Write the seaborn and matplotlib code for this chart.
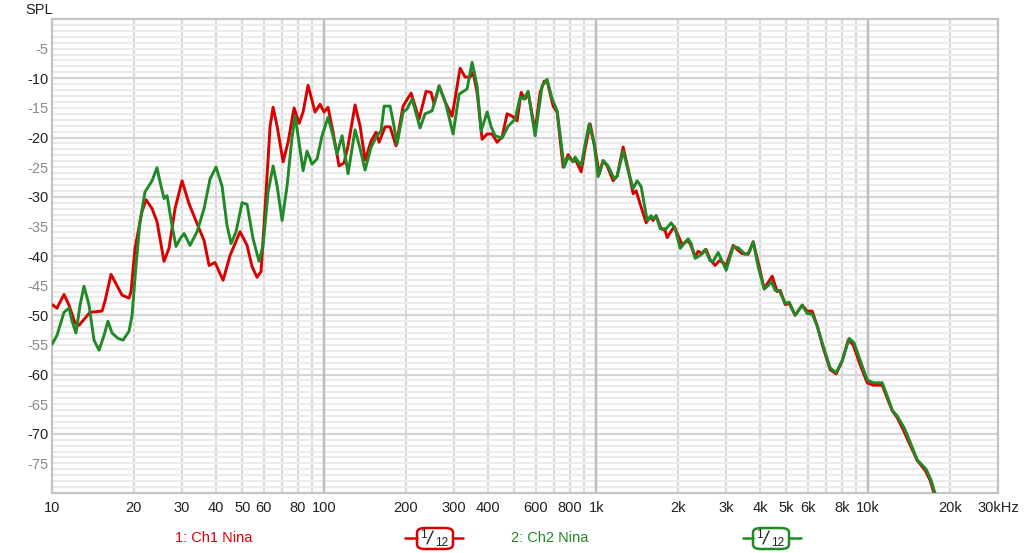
import numpy as np
import pandas as pd
import matplotlib
matplotlib.use("Agg")
import matplotlib.pyplot as plt
import seaborn as sns
from matplotlib.patches import FancyBboxPatch
from matplotlib.lines import Line2D
from matplotlib.ticker import FixedLocator, NullFormatter

# ---------------- data ----------------
ch1_freq = [10, 10.43, 11.07, 11.55, 12.15, 12.57, 13.22, 13.79, 15.27, 15.66, 16.48, 17.34,
            18.09, 19.19, 19.52, 20.19, 21.42, 22.16, 23.32, 24.32, 24.95, 25.81, 26.92, 28.33,
            30.06, 31.90, 33.56, 36.22, 37.79, 39.74, 42.54, 45.13, 49.12, 52.12, 54.37, 56.72,
            58.67, 60.70, 63.33, 64.97, 67.21, 70.71, 73.73, 77.59, 80.95, 83.73, 87.34, 92.66,
            96.67, 100.0, 103.4, 107.9, 113.5, 118.4, 122.5, 130.0, 135.7, 141.5, 148.9, 155.3,
            159.3, 167.6, 174.8, 183.9, 195.2, 208.9, 223.5, 237.1, 247.4, 253.8, 264.8, 278.6,
            295.5, 305.7, 316.2, 329.9, 344.2, 353.0, 365.2, 381.0, 397.5, 414.6, 432.5, 451.2,
            470.7, 491.1, 512.3, 530.0, 548.3, 562.3, 596.7, 622.5, 644.0, 660.6, 695.0, 718.9,
            756.3, 789.0, 823.0, 837.1, 880.8, 911.1, 950.6, 991.6, 1026, 1061, 1098, 1155,
            1195, 1257, 1311, 1368, 1403, 1451, 1527, 1579, 1620, 1662, 1734, 1794, 1824, 1936,
            1986, 2072, 2160, 2216, 2312, 2371, 2453, 2537, 2624, 2738, 2833, 2930, 3006, 3190,
            3300, 3442, 3621, 3778, 3975, 4146, 4437, 4629, 4749, 4953, 5124, 5391, 5721, 5967,
            6225, 6494, 6833, 7250, 7627, 8024, 8444, 8808, 9346, 9916, 10432, 11260, 11747,
            12255, 12785, 13450, 14033, 15139, 16204, 16904, 17338, 18090]
ch1_spl = [-48.2, -48.8, -46.5, -48.3, -51.3, -51.7, -50.5, -49.5, -49.3, -47.6, -43.1, -45.0,
           -46.6, -47.1, -46.0, -38.7, -32.5, -30.5, -32.0, -34.2, -37.1, -40.9, -38.7, -32.0,
           -27.3, -31.2, -33.7, -37.4, -41.6, -41.1, -44.1, -39.9, -35.9, -38.2, -41.8, -43.6,
           -42.6, -32.0, -18.1, -14.9, -18.1, -24.1, -20.8, -15.0, -17.6, -15.7, -11.2, -15.7,
           -14.4, -15.7, -14.9, -19.1, -24.8, -24.3, -21.4, -14.5, -18.1, -23.8, -20.6, -19.1,
           -20.8, -18.2, -18.2, -21.4, -14.7, -12.5, -16.9, -12.2, -12.4, -14.4, -11.3, -14.0,
           -16.4, -12.4, -8.3, -9.8, -9.8, -9.0, -12.4, -20.3, -19.4, -19.4, -20.8, -19.9,
           -16.0, -16.4, -17.2, -12.4, -13.5, -12.4, -18.9, -12.4, -10.5, -10.5, -14.7, -15.7,
           -25.0, -22.9, -24.1, -23.6, -25.8, -21.9, -17.7, -21.9, -26.2, -23.9, -24.8, -27.3,
           -26.5, -21.6, -25.3, -29.5, -29.0, -31.2, -34.4, -33.4, -34.0, -33.2, -35.4, -35.7, -36.9, -35.0,
           -36.2, -38.1, -37.4, -37.9, -40.1, -39.2, -39.6, -38.9, -40.6, -41.6, -40.8, -41.1, -41.6, -38.2,
           -38.9, -39.6, -39.7, -37.6, -41.8, -45.5, -43.4, -46.0, -45.8, -48.2, -48.0, -50.0, -48.3, -49.3,
           -49.3, -51.8, -55.5, -59.2, -59.9, -57.7, -54.2, -55.0, -58.4, -61.4, -61.8, -61.8, -64.0,
           -66.1, -67.3, -69.3, -71.2, -74.5, -76.2, -77.9, -79.6, -82.0]

ch2_freq = [10, 10.43, 11.07, 11.55, 11.85, 12.25, 12.68, 13.11, 13.68, 14.27, 14.89, 15.53,
            16.06, 16.62, 17.48, 18.24, 19.19, 19.69, 20.36, 21.06, 21.97, 23.32, 24.32, 24.95,
            25.81, 26.48, 27.62, 28.57, 29.56, 30.57, 32.17, 34.13, 36.22, 38.10, 40.08, 42.17,
            44.00, 45.52, 47.49, 49.95, 52.12, 54.83, 57.68, 59.67, 62.26, 64.97, 67.21, 70.12,
            73.11, 76.28, 78.25, 80.26, 83.73, 86.60, 90.33, 94.25, 98.31, 103.4, 107.9, 111.6,
            116.5, 122.5, 130.0, 135.7, 141.5, 148.9, 156.6, 162.0, 166.2, 174.8, 179.3, 185.5,
            195.2, 201.9, 210.6, 225.4, 235.1, 249.5, 264.8, 278.6, 298.1, 313.6, 335.5, 350.1,
            365.2, 377.8, 397.5, 411.2, 425.3, 451.2, 474.7, 503.7, 525.5, 543.7, 562.3, 596.7,
            633.2, 660.6, 689.2, 718.9, 762.7, 789.0, 823.0, 837.1, 880.8, 911.1, 942.5, 983.2,
            1017, 1061, 1107, 1165, 1195, 1257, 1311, 1368, 1415, 1464, 1540, 1593, 1620, 1662,
            1719, 1809, 1887, 1952, 2037, 2179, 2235, 2312, 2412, 2516, 2624, 2692, 2809, 3006,
            3190, 3328, 3530, 3652, 3778, 3941, 4146, 4289, 4400, 4551, 4708, 4953, 5124, 5391,
            5721, 5967, 6225, 6494, 6833, 7250, 7627, 8024, 8514, 8882, 9426, 9916, 10432, 11260,
            11747, 12255, 12785, 13565, 14152, 15139, 16341, 17048, 17484, 18200]
ch2_spl = [-54.9, -53.4, -49.5, -48.8, -51.0, -53.0, -48.3, -45.1, -48.3, -54.2, -55.9, -53.4,
           -51.0, -53.0, -53.9, -54.2, -52.7, -50.0, -41.6, -34.2, -29.2, -27.3, -25.1, -27.5,
           -30.3, -29.8, -34.9, -38.4, -37.1, -36.2, -38.2, -35.9, -32.0, -27.0, -25.0, -28.2,
           -34.9, -37.9, -35.9, -31.0, -31.3, -37.1, -40.9, -38.2, -29.2, -24.8, -28.2, -34.0,
           -28.2, -19.9, -16.4, -19.7, -25.6, -22.3, -24.5, -23.6, -19.7, -16.6, -19.7, -22.8,
           -19.7, -26.1, -18.7, -21.9, -25.5, -21.6, -19.7, -18.9, -14.7, -14.7, -17.2, -21.1,
           -15.7, -15.2, -13.5, -18.4, -16.0, -15.5, -11.3, -13.9, -19.4, -12.7, -11.8, -7.3,
           -11.3, -18.9, -15.7, -18.2, -19.7, -20.1, -18.1, -16.9, -13.2, -13.5, -12.2, -19.7,
           -11.3, -10.2, -13.5, -15.5, -25.0, -23.3, -24.1, -23.3, -24.8, -21.1, -17.7, -21.1,
           -26.6, -23.9, -24.8, -27.0, -26.5, -22.3, -25.6, -28.6, -27.3, -28.3, -34.0, -33.2, -33.7, -33.2,
           -35.4, -35.4, -34.4, -35.4, -38.7, -37.1, -37.9, -40.4, -39.9, -38.9, -40.8, -40.9, -39.4, -42.4,
           -38.4, -38.6, -39.7, -39.4, -37.6, -41.8, -45.6, -45.0, -44.3, -45.8, -45.8, -48.0, -47.8, -50.0,
           -48.3, -49.7, -49.8, -51.8, -55.2, -58.9, -59.7, -57.7, -53.9, -54.7, -58.1, -60.9, -61.4, -61.4,
           -63.6, -66.0, -67.0, -69.0, -71.0, -74.4, -76.0, -77.9, -79.6, -82.0]

series_names = ["1: Ch1 Nina", "2: Ch2 Nina"]
series_colors = ["#d90000", "#1f8a26"]
smoothing_label = ("1", "12")

x_tick_values = [10, 20, 30, 40, 50, 60, 80, 100, 200, 300, 400, 600, 800, 1000,
                 2000, 3000, 4000, 5000, 6000, 8000, 10000, 20000, 30000]
x_tick_labels = ["10", "20", "30", "40", "50", "60", "80", "100", "200", "300", "400", "600",
                 "800", "1k", "2k", "3k", "4k", "5k", "6k", "8k", "10k", "20k", "30kHz"]
y_tick_values = list(range(-75, 0, 5))

# ---------------- figure ----------------
sns.set_theme(style="white")
plt.rcParams["font.family"] = ["Liberation Sans", "DejaVu Sans"]

W, H = 1024, 553
fig = plt.figure(figsize=(W / 100, H / 100), dpi=100)
ax = fig.add_axes([52 / W, (H - 493) / H, (998 - 52) / W, (493 - 19) / H])

df1 = pd.DataFrame({"freq": ch1_freq, "spl": ch1_spl})
df2 = pd.DataFrame({"freq": ch2_freq, "spl": ch2_spl})
sns.lineplot(data=df1, x="freq", y="spl", ax=ax, color=series_colors[0], lw=2.1,
             estimator=None, sort=False, zorder=3)
sns.lineplot(data=df2, x="freq", y="spl", ax=ax, color=series_colors[1], lw=2.1,
             estimator=None, sort=False, zorder=4)
for ln in ax.get_lines():
    ln.set_solid_joinstyle("round")

ax.set_xscale("log")
ax.set_xlim(10, 30000)
ax.set_ylim(-80, 0)
ax.set_xlabel("")
ax.set_ylabel("")

# grid lines
minor_x = [m * 10 ** e for e in range(1, 5) for m in range(1, 10) if m * 10 ** e <= 30000]
ax.xaxis.set_major_locator(FixedLocator(x_tick_values))
ax.set_xticklabels(x_tick_labels)
ax.xaxis.set_minor_locator(FixedLocator(minor_x))
ax.xaxis.set_minor_formatter(NullFormatter())
ax.xaxis.remove_overlapping_locs = False

ax.yaxis.set_major_locator(FixedLocator(y_tick_values))
ax.yaxis.set_minor_locator(FixedLocator(list(range(-80, 1))))
ax.yaxis.remove_overlapping_locs = False

ax.grid(False)
ax.grid(which="minor", axis="y", color="#ebebeb", lw=1.5, zorder=0)
ax.grid(which="minor", axis="x", color="#d9d9d9", lw=1.6, zorder=0)
for v in range(-70, 0, 10):
    ax.axhline(v, color="#d6d6d6", lw=1.6, zorder=1)
for d in [100, 1000, 10000]:
    ax.axvline(d, color="#bcbcbc", lw=1.7, zorder=1)
ax.set_axisbelow(True)

for s in ax.spines.values():
    s.set_color("#c4c4c4")
    s.set_linewidth(1.6)

ax.tick_params(axis="both", which="both", length=0)
ax.tick_params(axis="x", labelsize=10.5, pad=5.5, labelcolor="#222222")
ax.tick_params(axis="y", labelsize=10.5, pad=2.5)
ax.set_yticklabels([str(v) for v in y_tick_values])

fig.canvas.draw()
for tick, v in zip(ax.yaxis.get_major_ticks(), y_tick_values):
    tick.label1.set_color("#222222" if v % 10 == 0 else "#8a8a8a")

fig.text(25 / W, 1 - 10 / H, "SPL", fontsize=10.5, color="#222222", va="center", ha="left")

# ---------------- legend ----------------
ly = 1 - 538 / H
fig.text(214 / W, ly, series_names[0], color=series_colors[0], fontsize=10.5, ha="center", va="center")
fig.text(550 / W, ly, series_names[1], color=series_colors[1], fontsize=10.5, ha="center", va="center")


def smoothing_badge(x0, x1, bx0, bx1, color):
    fig.add_artist(Line2D([x0 / W, bx0 / W], [ly, ly], color=color, lw=1.8,
                          transform=fig.transFigure))
    fig.add_artist(Line2D([bx1 / W, x1 / W], [ly, ly], color=color, lw=1.8,
                          transform=fig.transFigure))
    box = FancyBboxPatch((bx0 / W, (H - 549) / H), (bx1 - bx0) / W, 21 / H,
                         boxstyle="round,pad=0,rounding_size=0.008", transform=fig.transFigure,
                         facecolor="white", edgecolor=color, lw=1.8)
    fig.add_artist(box)
    cx = (bx0 + bx1) / 2
    fig.text((cx - 12) / W, 1 - 535.5 / H, smoothing_label[0], fontsize=8.5, color="#222222",
             ha="center", va="center")
    fig.add_artist(Line2D([(cx - 8) / W, (cx - 2) / W], [1 - 544 / H, 1 - 531 / H],
                          color="#222222", lw=1.0, transform=fig.transFigure))
    fig.text((cx + 7) / W, 1 - 542.5 / H, smoothing_label[1], fontsize=8.5, color="#222222",
             ha="center", va="center")


smoothing_badge(405, 463, 417, 453, series_colors[0])
smoothing_badge(743, 801, 753, 789, series_colors[1])

fig.savefig("out.png", dpi=100)
